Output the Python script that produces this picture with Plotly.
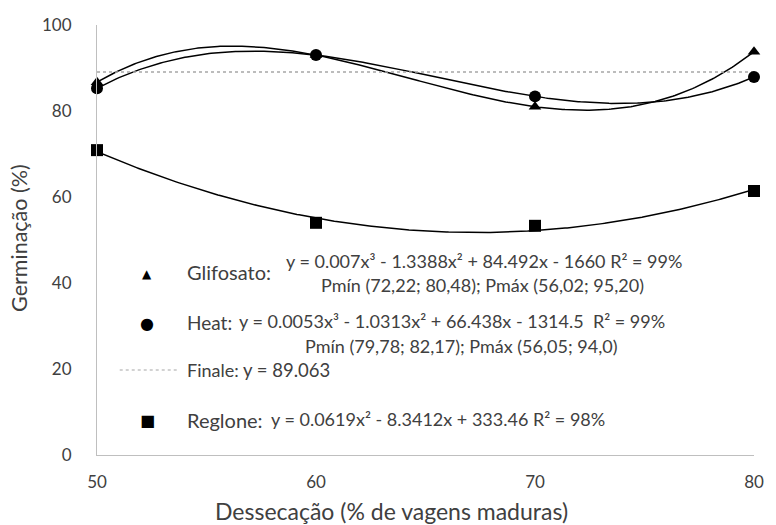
import numpy as np
import plotly.graph_objects as go

# ---- data ----
desseccao = [50, 60, 70, 80]
glifosato = [86.7, 93.0, 81.0, 93.8]
heat = [85.3, 93.0, 83.4, 87.9]
reglone = [70.9, 54.0, 53.3, 61.4]
finale_mean = 89.063

x_ticks = [50, 60, 70, 80]
y_ticks = [0, 20, 40, 60, 80, 100]

x_title = "Dessecação (% de vagens maduras)"
y_title = "Germinação (%)"

leg_glif_label = "Glifosato:"
leg_glif_eq = "y = 0.007x³ - 1.3388x² + 84.492x - 1660 R² = 99%"
leg_glif_p = "Pmín (72,22; 80,48); Pmáx (56,02; 95,20)"
leg_heat_label = "Heat:"
leg_heat_eq = "y = 0.0053x³ - 1.0313x² + 66.438x - 1314.5  R² = 99%"
leg_heat_p = "Pmín (79,78; 82,17); Pmáx (56,05; 94,0)"
leg_fin_label = "Finale:"
leg_fin_eq = "y = 89.063"
leg_reg_label = "Reglone:"
leg_reg_eq = "y = 0.0619x² - 8.3412x + 333.46 R² = 98%"

# ---- layout geometry ----
W, H = 776, 525
ML, MR, MT, MB = 97, 14, 25, 70
PW, PH = W - ML - MR, H - MT - MB

def px(xp):
    return (xp - ML) / PW

def py(yp):
    return (H - MB - yp) / PH

TXT = "#404040"
FONT = "Lato"

xd = np.array(desseccao, dtype=float)
xs = np.linspace(50, 80, 300)
fit_g = np.polyval(np.polyfit(xd, glifosato, 3), xs)
fit_h = np.polyval(np.polyfit(xd, heat, 3), xs)
fit_r = np.polyval(np.polyfit(xd, reglone, 2), xs)

fig = go.Figure()
line_style = dict(color="black", width=1.5)
fig.add_trace(go.Scatter(x=xs, y=fit_g, mode="lines", line=line_style, hoverinfo="skip"))
fig.add_trace(go.Scatter(x=xs, y=fit_h, mode="lines", line=line_style, hoverinfo="skip"))
fig.add_trace(go.Scatter(x=xs, y=fit_r, mode="lines", line=line_style, hoverinfo="skip"))
fig.add_trace(go.Scatter(x=[desseccao[0], desseccao[-1]], y=[finale_mean, finale_mean],
                         mode="lines", line=dict(color="#a6a6a6", width=1.5, dash="dot")))
fig.add_trace(go.Scatter(x=desseccao, y=glifosato, mode="markers", cliponaxis=False,
                         marker=dict(symbol="triangle-up", size=11, color="black")))
fig.add_trace(go.Scatter(x=desseccao, y=heat, mode="markers", cliponaxis=False,
                         marker=dict(symbol="circle", size=12, color="black")))
fig.add_trace(go.Scatter(x=desseccao, y=reglone, mode="markers", cliponaxis=False,
                         marker=dict(symbol="square", size=12, color="black")))

ann = []
def add(text, x, y, size, xanchor="left"):
    ann.append(dict(text=text, x=px(x), y=py(y), xref="paper", yref="paper",
                    xanchor=xanchor, yanchor="middle", showarrow=False,
                    font=dict(family=FONT, size=size, color=TXT)))

def key(sym, x, y, size):
    ann.append(dict(text=sym, x=px(x), y=py(y), xref="paper", yref="paper",
                    xanchor="center", yanchor="middle", showarrow=False,
                    font=dict(family="DejaVu Sans", size=size, color="black")))

LBL, EQ = 20, 18
key("▲", 148, 274, 12)
add(leg_glif_label, 186, 272, LBL)
add(leg_glif_eq, 286, 261, EQ)
add(leg_glif_p, 487, 285, EQ, "center")
key("●", 148, 323, 16)
add(leg_heat_label, 186, 322, 19)
add(leg_heat_eq, 239, 321, EQ)
add(leg_heat_p, 466, 346, EQ, "center")
add(leg_fin_label, 186, 370, 18)
add(leg_fin_eq, 243, 370, 18.5)
key("■", 148, 420, 16)
add(leg_reg_label, 186, 420, LBL)
add(leg_reg_eq, 271, 419, EQ)

add(x_title, 395, 511, 23, "center")
ann.append(dict(text=y_title, x=px(18), y=py(238), xref="paper", yref="paper",
                xanchor="center", yanchor="middle", showarrow=False, textangle=-90,
                font=dict(family=FONT, size=21.5, color=TXT)))

shapes = [dict(type="line", xref="paper", yref="paper", x0=px(120), x1=px(178),
               y0=py(370), y1=py(370), line=dict(color="#a6a6a6", width=1.2, dash="dot"))]

fig.update_layout(
    width=W, height=H, margin=dict(l=ML, r=MR, t=MT, b=MB),
    paper_bgcolor="white", plot_bgcolor="white", showlegend=False,
    font=dict(family=FONT, color=TXT),
    annotations=ann, shapes=shapes,
    xaxis=dict(range=[50, 80], tickvals=x_ticks, showgrid=False, zeroline=False,
               showline=True, linecolor="#bfbfbf", linewidth=1, ticks="",
               tickfont=dict(size=17, color=TXT, family=FONT), ticklabelstandoff=12),
    yaxis=dict(range=[0, 100], tickvals=y_ticks, showgrid=False, zeroline=False,
               showline=True, linecolor="#bfbfbf", linewidth=1, ticks="",
               tickfont=dict(size=17, color=TXT, family=FONT), ticklabelstandoff=21),
)

fig.write_html("out.html")
